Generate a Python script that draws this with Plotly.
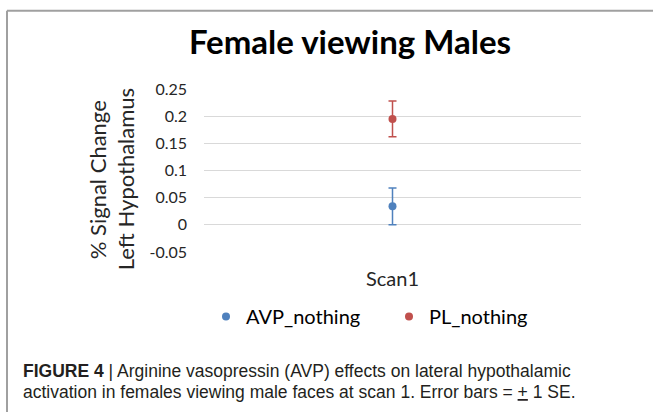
import plotly.graph_objects as go

# ---- data ----
categories = ["Scan1"]
series_names = ["AVP_nothing", "PL_nothing"]
avp_values = [0.034]
avp_se = [0.034]
pl_values = [0.195]
pl_se = [0.033]
y_ticks = [-0.05, 0, 0.05, 0.1, 0.15, 0.2, 0.25]
y_ticklabels = ["-0.05", "0", "0.05", "0.1", "0.15", "0.2", "0.25"]

W, H = 653, 412
L, R = 204, 581          # plot area left/right (px)
T, B = 89, 251.7         # plot area top/bottom (px)

def px(x):
    return (x - L) / (R - L)

def py(y):
    return (B - y) / (B - T)

FONT = "Lato, 'Open Sans', sans-serif"
BLUE = "#4F81BD"
RED = "#C0504D"

fig = go.Figure()
fig.add_trace(go.Scatter(
    x=categories, y=avp_values, name=series_names[0], mode="markers",
    marker=dict(color=BLUE, size=8),
    error_y=dict(type="data", array=avp_se, visible=True, color=BLUE,
                 thickness=1.5, width=4),
))
fig.add_trace(go.Scatter(
    x=categories, y=pl_values, name=series_names[1], mode="markers",
    marker=dict(color=RED, size=8),
    error_y=dict(type="data", array=pl_se, visible=True, color=RED,
                 thickness=1.5, width=4),
))

fig.update_layout(
    width=W, height=H,
    margin=dict(l=L, r=W - R, t=T, b=H - B, pad=0, autoexpand=False),
    paper_bgcolor="white", plot_bgcolor="white",
    font=dict(family=FONT, color="#262626"),
    title=dict(text="<b>Female viewing Males</b>", xref="container", yref="container",
               x=350 / W, y=1 - 42 / H, xanchor="center", yanchor="middle",
               font=dict(size=33, color="#000000", family=FONT)),
    showlegend=True,
    legend=dict(orientation="h", x=px(206), y=py(316), xanchor="left", yanchor="middle",
                font=dict(size=20, color="#000000", family=FONT),
                entrywidth=138, bgcolor="rgba(0,0,0,0)"),
    xaxis=dict(type="category", range=[-0.5, 0.5], showgrid=False, zeroline=False,
               showline=False, ticks="", tickfont=dict(size=20, color="#262626"),
               ticklabelstandoff=13),
    yaxis=dict(range=[-0.05, 0.25], tickvals=y_ticks, ticktext=y_ticklabels,
               showgrid=True, gridcolor="#D9D9D9", gridwidth=1, zeroline=False,
               showline=False, ticks="", tickfont=dict(size=16, color="#262626"),
               ticklabelstandoff=16),
)

# y-axis title (two lines, rotated)
fig.add_annotation(text="% Signal Change", xref="paper", yref="paper",
                   x=px(97), y=py(180), xanchor="center", yanchor="middle",
                   textangle=-90, showarrow=False,
                   font=dict(size=22, color="#262626", family=FONT))
fig.add_annotation(text="Left Hypothalamus", xref="paper", yref="paper",
                   x=px(125), y=py(179), xanchor="center", yanchor="middle",
                   textangle=-90, showarrow=False,
                   font=dict(size=22, color="#262626", family=FONT))

# caption
CAP_FONT = "'Liberation Sans Narrow', 'Arial Narrow', 'Liberation Sans', sans-serif"
fig.add_annotation(text="<b>FIGURE 4</b> | Arginine vasopressin (AVP) effects on lateral hypothalamic",
                   xref="paper", yref="paper", x=px(22), y=py(370.5),
                   xanchor="left", yanchor="middle", showarrow=False, align="left",
                   borderpad=0,
                   font=dict(size=17.5, color="#231F20", family=CAP_FONT))
fig.add_annotation(text="activation in females viewing male faces at scan 1. Error bars = <u>+</u> 1 SE.",
                   xref="paper", yref="paper", x=px(22), y=py(391.5),
                   xanchor="left", yanchor="middle", showarrow=False, align="left",
                   borderpad=0,
                   font=dict(size=17.5, color="#231F20", family=CAP_FONT))

# frame lines (top and left)
fig.add_shape(type="line", xref="paper", yref="paper", x0=px(7), x1=px(W), y0=py(11), y1=py(11),
              line=dict(color="#A0A0A0", width=2))
fig.add_shape(type="line", xref="paper", yref="paper", x0=px(7), x1=px(7), y0=py(11), y1=py(H),
              line=dict(color="#A0A0A0", width=2))

fig.write_html(
    "out.html",
    config={"displayModeBar": False},
    post_script="document.body.style.margin='0';document.body.style.padding='0';",
)
